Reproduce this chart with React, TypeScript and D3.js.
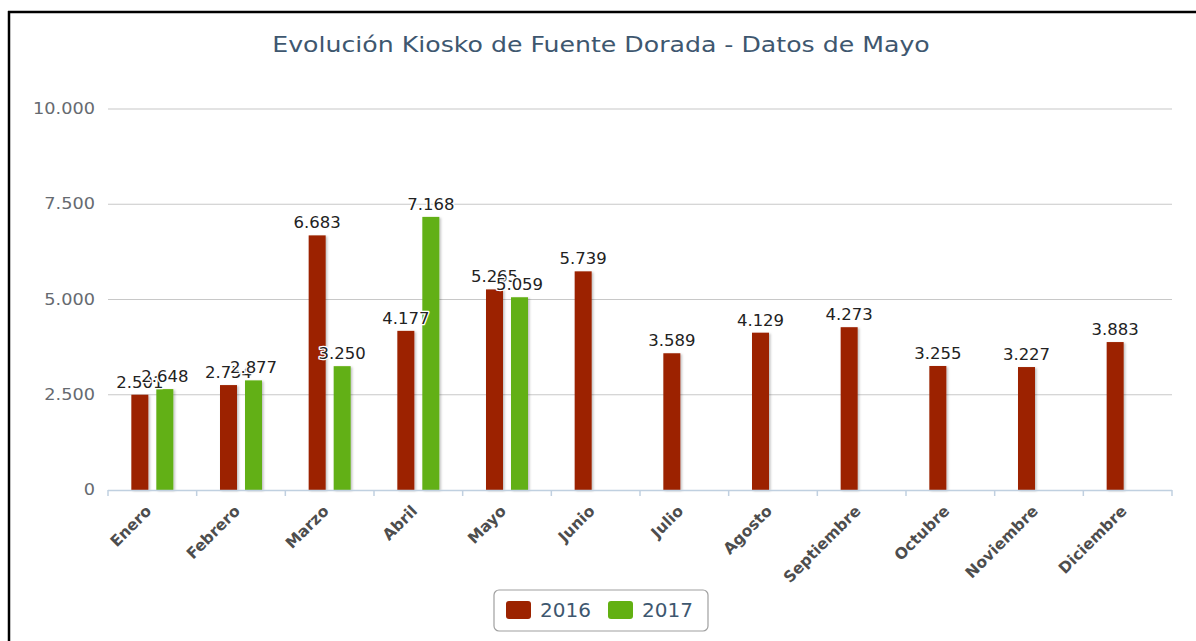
import * as d3 from 'd3';

// Datos de la gráfica
const months = [
  'Enero', 'Febrero', 'Marzo', 'Abril', 'Mayo', 'Junio',
  'Julio', 'Agosto', 'Septiembre', 'Octubre', 'Noviembre', 'Diciembre',
];
const seriesNames = ['2016', '2017'];
const values2016 = [2501, 2754, 6683, 4177, 5265, 5739, 3589, 4129, 4273, 3255, 3227, 3883];
const values2017: (number | null)[] = [2648, 2877, 3250, 7168, 5059, null, null, null, null, null, null, null];
const yTicks = [0, 2500, 5000, 7500, 10000];
const seriesColors = ['#9c2300', '#62b012'];

const W = 1196;
const H = 641;
const plot = { left: 108, right: 1172, top: 109, bottom: 490 };
const fontFamily = '"DejaVu Sans", "Open Sans", sans-serif';

const fmt = (v: number) => d3.format(',')(v).replace(/,/g, '.');

// texto algo ensanchado, como en la captura original
const at = (x: number, y: number, sx: number) => `translate(${x},${y}) scale(${sx},1)`;

export default function App() {
  const x0 = d3.scaleBand<string>().domain(months).range([plot.left, plot.right]).padding(0);
  const bw = x0.bandwidth();
  const x1 = d3
    .scaleBand<string>()
    .domain(seriesNames)
    .range([bw / 2 - 21, bw / 2 + 21])
    .paddingInner(0.32);
  const y = d3.scaleLinear().domain([0, 10000]).range([plot.bottom, plot.top]);

  const series = [values2016, values2017];

  const bars = series.flatMap((vals, si) =>
    vals.map((v, i) => (v == null ? null : { name: seriesNames[si], si, month: months[i], v }))
  ).filter(Boolean) as { name: string; si: number; month: string; v: number }[];

  // category boundaries for the tick marks
  const tickEdges = months.map((m) => x0(m)!).concat([plot.right]);

  return (
    <svg
      width={W}
      height={H}
      style={{ position: 'absolute', left: 0, top: 0, background: '#fff' }}
      fontFamily={fontFamily}
    >
      <defs>
        <filter id="barShadow" x="-30%" y="-5%" width="160%" height="110%">
          <feDropShadow dx="1.5" dy="1" stdDeviation="1.2" floodColor="#000" floodOpacity="0.25" />
        </filter>
      </defs>

      {/* marco negro */}
      <line x1={8} y1={12} x2={W} y2={12} stroke="#000" strokeWidth={2.5} />
      <line x1={9} y1={11} x2={9} y2={H} stroke="#000" strokeWidth={2.5} />

      {/* título */}
      <text transform={at(601, 52, 1.2)} textAnchor="middle" fontSize={21} fill="#3e576f">
        Evolución Kiosko de Fuente Dorada - Datos de Mayo
      </text>

      {/* rejilla y etiquetas del eje Y */}
      {yTicks.map((t) => (
        <g key={t}>
          {t > 0 && (
            <line x1={plot.left} x2={plot.right} y1={y(t)} y2={y(t)} stroke="#c8c8c8" strokeWidth={1.2} />
          )}
          <text transform={at(95, y(t) + 5, 1.18)} textAnchor="end" fontSize={15} fill="#666a70">
            {fmt(t)}
          </text>
        </g>
      ))}

      {/* barras */}
      {bars.map((b) => (
        <rect
          key={b.name + b.month}
          x={x0(b.month)! + x1(b.name)!}
          y={y(b.v)}
          width={x1.bandwidth()}
          height={y(0) - y(b.v)}
          fill={seriesColors[b.si]}
          filter="url(#barShadow)"
        />
      ))}

      {/* eje X */}
      <line x1={plot.left} x2={plot.right} y1={plot.bottom + 0.5} y2={plot.bottom + 0.5} stroke="#c0d0e0" strokeWidth={1.5} />
      {tickEdges.map((tx, i) => (
        <line key={i} x1={tx} x2={tx} y1={plot.bottom} y2={plot.bottom + 6} stroke="#c0d0e0" strokeWidth={1.5} />
      ))}
      {months.map((m) => {
        const cx = x0(m)! + bw / 2;
        return (
          <text
            key={m}
            transform={`translate(${cx},${plot.bottom + 22}) rotate(-45)`}
            textAnchor="end"
            fontSize={15.5}
            fontWeight="bold"
            fill="#4d4d4d"
          >
            {m}
          </text>
        );
      })}

      {/* etiquetas de datos */}
      {bars.map((b) => (
        <text
          key={'l' + b.name + b.month}
          transform={at(x0(b.month)! + x1(b.name)! + x1.bandwidth() / 2, y(b.v) - 7, 1.1)}
          textAnchor="middle"
          fontSize={15}
          fill="#222"
          stroke="#fff"
          strokeWidth={2.5}
          strokeLinejoin="round"
          style={{ paintOrder: 'stroke' }}
        >
          {fmt(b.v)}
        </text>
      ))}

      {/* leyenda */}
      <rect x={494} y={590} width={214} height={41} rx={5} fill="#fff" stroke="#a0a0a0" strokeWidth={1.2} />
      {seriesNames.map((s, i) => {
        const lx = 506 + i * 102;
        return (
          <g key={s}>
            <rect x={lx} y={601} width={25} height={18} rx={3} fill={seriesColors[i]} />
            <text x={lx + 34} y={617} fontSize={20} fill="#3e576f">
              {s}
            </text>
          </g>
        );
      })}
    </svg>
  );
}
